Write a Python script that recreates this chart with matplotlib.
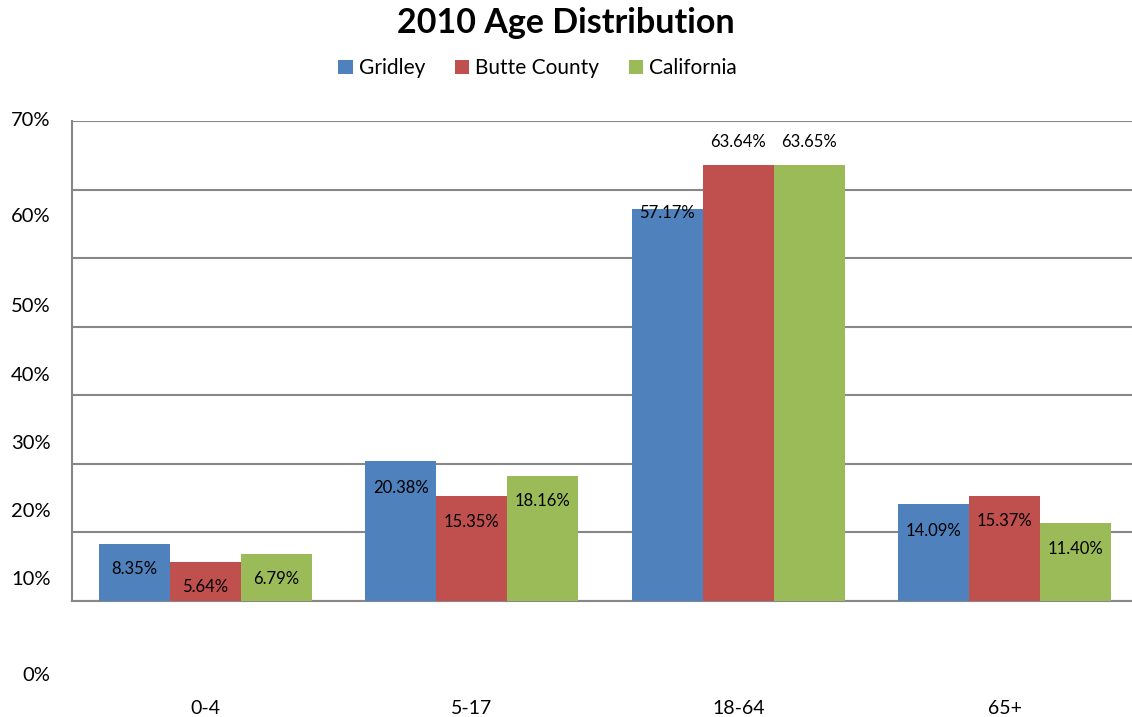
import matplotlib.pyplot as plt
import matplotlib.transforms as mtransforms
import numpy as np

plt.rcParams['font.family'] = ['Lato', 'DejaVu Sans']

categories = ['0-4', '5-17', '18-64', '65+']
series = ['Gridley', 'Butte County', 'California']
gridley = [8.35, 20.38, 57.17, 14.09]
butte = [5.64, 15.35, 63.64, 15.37]
california = [6.79, 18.16, 63.65, 11.40]
values = [gridley, butte, california]
colors = ['#4F81BD', '#C0504D', '#9BBB59']

# y tick labels as they sit in the original (slightly off their gridlines)
ytick_text = ['70%', '60%', '50%', '40%', '30%', '20%', '10%', '0%']
ytick_pos = [70, 56.1, 43.0, 32.9, 23.0, 13.1, 3.2, -10.9]

# label offset from bar top in points (negative = inside bar)
label_offsets = [
    [-18, -19, -3, -19],
    [-18, -19, 16, -18],
    [-18, -18, 16, -19],
]

fig = plt.figure(figsize=(11.32, 7.17), dpi=100)
ax = fig.add_axes([0.0636, 0.1618, 0.9417, 0.6695])

x = np.arange(len(categories))
width = 0.2667
for i, (name, vals, c) in enumerate(zip(series, values, colors)):
    xs = x + (i - 1) * width
    ax.bar(xs, vals, width, color=c, label=name, zorder=3)
    for xi, v, off in zip(xs, vals, label_offsets[i]):
        ax.annotate(f'{v:.2f}%', (xi, v), xytext=(0, off), textcoords='offset points',
                    ha='center', va='center', fontsize=12, color='black', zorder=4)

ax.set_xlim(-0.5, 3.5)
ax.set_ylim(0, 70)
ax.set_yticks(np.arange(0, 71, 10))
ax.yaxis.grid(True, color='#878787', linewidth=1.5, zorder=0)
ax.tick_params(axis='y', length=0, labelleft=False)
ax.tick_params(axis='x', length=0, pad=71, labelsize=14)
ax.set_xticks(x)
ax.set_xticklabels(categories)

for s in ['top', 'right']:
    ax.spines[s].set_visible(False)
for s in ['left', 'bottom']:
    ax.spines[s].set_color('#878787')
    ax.spines[s].set_linewidth(1.5)

trans = mtransforms.blended_transform_factory(ax.transAxes, ax.transData)
for t, p in zip(ytick_text, ytick_pos):
    ax.text(-0.02, p, t, transform=trans, ha='right', va='center', fontsize=14.5, clip_on=False)

fig.suptitle('2010 Age Distribution', fontsize=24.5, fontweight='bold', x=0.5, y=0.99, va='top')
fig.legend(loc='center', bbox_to_anchor=(0.475, 0.905), ncol=3, frameon=False, fontsize=15,
           handlelength=0.7, handleheight=0.7, handletextpad=0.3, columnspacing=1.4)

fig.savefig('out.png', dpi=100)
